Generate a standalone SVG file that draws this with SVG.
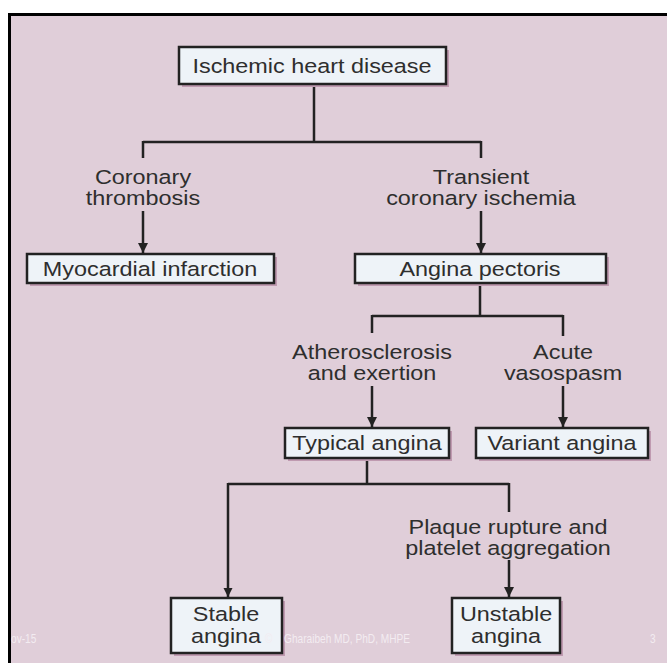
<svg xmlns="http://www.w3.org/2000/svg" width="667" height="663" viewBox="0 0 667 663">
<defs>
<style>
.bg{fill:#e0ced9}
.frame{stroke:#000;stroke-width:3;fill:none}
.box{fill:#eef3f8;stroke:#222;stroke-width:2.5}
.sh{fill:#bf9ab0}
.t{font-family:"Liberation Sans",Arial,sans-serif;font-size:19.5px;fill:#2e2e2e;text-anchor:middle}
.ln{stroke:#222;stroke-width:2.5;fill:none}
.ft{font-family:"Liberation Sans",Arial,sans-serif;font-size:13px;fill:#f3ecf1}
</style>
<marker id="ah" viewBox="0 0 10 10" refX="10" refY="5" markerWidth="4" markerHeight="4" markerUnits="strokeWidth" orient="auto">
<path d="M0,0 L10,5 L0,10 Z" fill="#222"/>
</marker>
</defs>
<rect x="0" y="0" width="667" height="663" fill="#ffffff"/>
<rect class="bg" x="9" y="14" width="658" height="649"/>
<path class="frame" d="M9.5,663 V14.5 H667"/>

<g id="connectors">
<path class="ln" d="M314,84 V142 M143,142 H481 M143,141 V158 M481,141 V158"/>
<path class="ln" d="M143,211 V253" marker-end="url(#ah)"/>
<path class="ln" d="M481,211 V253" marker-end="url(#ah)"/>
<path class="ln" d="M480,283 V316 M372,316 H563 M372,315 V333 M563,315 V336"/>
<path class="ln" d="M372,386 V427" marker-end="url(#ah)"/>
<path class="ln" d="M563,386 V427" marker-end="url(#ah)"/>
<path class="ln" d="M367,458 V484 M228,484 H509 M228,483 V597 M509,483 V512"/>
<path class="ln" d="M509,560 V597" marker-end="url(#ah)"/>
<path d="M228,597 l-4.5,-9 h9 z" fill="#222"/>
</g>

<g id="n-ihd">
<rect class="sh" x="182" y="50" width="267" height="37"/>
<rect class="box" x="179" y="47" width="267" height="37"/>
<text class="t" transform="translate(312,73) scale(1.2,1)">Ischemic heart disease</text>
</g>
<g id="l-coronary-thrombosis">
<text class="t" transform="translate(143,184) scale(1.2,1)">Coronary</text>
<text class="t" transform="translate(143,205) scale(1.2,1)">thrombosis</text>
</g>
<g id="l-transient">
<text class="t" transform="translate(481,184) scale(1.2,1)">Transient</text>
<text class="t" transform="translate(481,205) scale(1.2,1)">coronary ischemia</text>
</g>
<g id="n-mi">
<rect class="sh" x="30" y="257" width="247" height="29"/>
<rect class="box" x="27" y="254" width="247" height="29"/>
<text class="t" transform="translate(150,275.5) scale(1.2,1)">Myocardial infarction</text>
</g>
<g id="n-ap">
<rect class="sh" x="358" y="257" width="251" height="29"/>
<rect class="box" x="355" y="254" width="251" height="29"/>
<text class="t" transform="translate(480,275.5) scale(1.2,1)">Angina pectoris</text>
</g>
<g id="l-athero">
<text class="t" transform="translate(372,359) scale(1.2,1)">Atherosclerosis</text>
<text class="t" transform="translate(372,380) scale(1.2,1)">and exertion</text>
</g>
<g id="l-vasospasm">
<text class="t" transform="translate(563,359) scale(1.2,1)">Acute</text>
<text class="t" transform="translate(563,380) scale(1.2,1)">vasospasm</text>
</g>
<g id="n-typical">
<rect class="sh" x="288" y="431" width="164" height="30"/>
<rect class="box" x="285" y="428" width="164" height="30"/>
<text class="t" transform="translate(367,450) scale(1.2,1)">Typical angina</text>
</g>
<g id="n-variant">
<rect class="sh" x="479" y="431" width="172" height="30"/>
<rect class="box" x="476" y="428" width="172" height="30"/>
<text class="t" transform="translate(562,450) scale(1.2,1)">Variant angina</text>
</g>
<g id="l-plaque">
<text class="t" transform="translate(508,534) scale(1.2,1)">Plaque rupture and</text>
<text class="t" transform="translate(508,555) scale(1.2,1)">platelet aggregation</text>
</g>
<g id="n-stable">
<rect class="sh" x="174" y="601" width="111" height="55"/>
<rect class="box" x="171" y="598" width="111" height="55"/>
<text class="t" transform="translate(226,621) scale(1.2,1)">Stable</text>
<text class="t" transform="translate(226,643) scale(1.2,1)">angina</text>
</g>
<g id="n-unstable">
<rect class="sh" x="455" y="601" width="108" height="55"/>
<rect class="box" x="452" y="598" width="108" height="55"/>
<text class="t" transform="translate(506,621) scale(1.2,1)">Unstable</text>
<text class="t" transform="translate(506,643) scale(1.2,1)">angina</text>
</g>

<g id="footer">
<text class="ft" transform="translate(11,643) scale(0.78,1)">ov-15</text>
<text class="ft" transform="translate(265,643) scale(0.78,1)">©</text>
<text class="ft" transform="translate(284,643) scale(0.78,1)">Gharaibeh MD, PhD, MHPE</text>
<text class="ft" transform="translate(650,643) scale(0.78,1)">3</text>
</g>
</svg>
